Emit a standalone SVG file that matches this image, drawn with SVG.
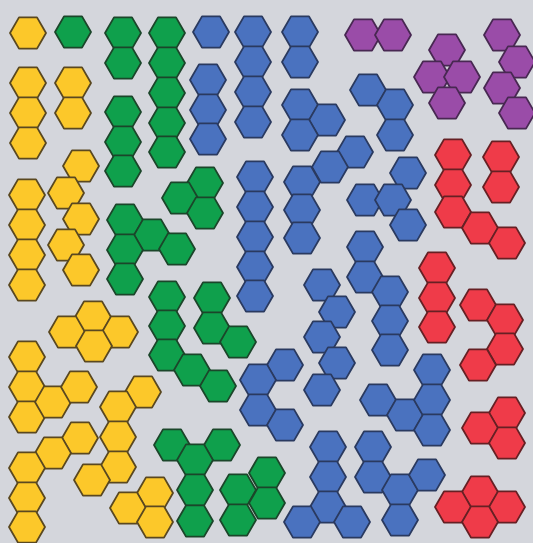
<svg xmlns="http://www.w3.org/2000/svg" xmlns:xlink="http://www.w3.org/1999/xlink" width="533" height="543" viewBox="0 0 533 543">
<style>
.y{fill:#fcc82a;stroke:#5a4820}
.g{fill:#0fa04c;stroke:#1b462a}
.b{fill:#4a72bf;stroke:#2a3a60}
.p{fill:#9a4ca8;stroke:#482852}
.r{fill:#ef3b49;stroke:#662024}
g use{stroke-width:1.8;stroke-linejoin:round}
</style>
<defs>
<polygon id="h" points="18,0 9,15.6 -9,15.6 -18,0 -9,-15.6 9,-15.6"/>
</defs>
<rect width="533" height="543" fill="#d4d6dc"/>
<!-- yellow -->
<g id="y1" class="y"><use href="#h" x="28" y="33"/></g>
<g id="y2" class="y"><use href="#h" x="28" y="83"/><use href="#h" x="28" y="113"/><use href="#h" x="28" y="143"/></g>
<g id="y3" class="y"><use href="#h" x="73" y="83"/><use href="#h" x="73" y="113"/></g>
<g id="y4" class="y"><use href="#h" x="81" y="166"/><use href="#h" x="66" y="193"/><use href="#h" x="81" y="219"/><use href="#h" x="66" y="245"/><use href="#h" x="81" y="270"/></g>
<g id="y5" class="y"><use href="#h" x="27" y="195"/><use href="#h" x="27" y="225"/><use href="#h" x="27" y="255"/><use href="#h" x="27" y="285"/></g>
<g id="y6" class="y"><use href="#h" x="93" y="317"/><use href="#h" x="67" y="332"/><use href="#h" x="120" y="332"/><use href="#h" x="94" y="346"/></g>
<g id="y7" class="y"><use href="#h" x="27" y="357"/><use href="#h" x="27" y="387"/><use href="#h" x="27" y="417"/><use href="#h" x="53" y="402"/><use href="#h" x="79" y="387"/></g>
<g id="y8" class="y"><use href="#h" x="143" y="392"/><use href="#h" x="118" y="407"/><use href="#h" x="118" y="437"/><use href="#h" x="118" y="467"/><use href="#h" x="92" y="480"/></g>
<g id="y9" class="y"><use href="#h" x="80" y="438"/><use href="#h" x="53" y="453"/><use href="#h" x="27" y="468"/><use href="#h" x="27" y="498"/><use href="#h" x="27" y="527"/></g>
<g id="y10" class="y"><use href="#h" x="155" y="493"/><use href="#h" x="128" y="508"/><use href="#h" x="155" y="522"/></g>
<!-- green -->
<g id="g1" class="g"><use href="#h" x="73" y="32"/></g>
<g id="g2" class="g"><use href="#h" x="123" y="33"/><use href="#h" x="123" y="63"/></g>
<g id="g3" class="g"><use href="#h" x="167" y="33"/><use href="#h" x="167" y="63"/><use href="#h" x="167" y="93"/><use href="#h" x="167" y="123"/><use href="#h" x="167" y="152"/></g>
<g id="g4" class="g"><use href="#h" x="123" y="112"/><use href="#h" x="123" y="142"/><use href="#h" x="123" y="171"/></g>
<g id="g5" class="g"><use href="#h" x="205" y="183"/><use href="#h" x="180" y="198"/><use href="#h" x="205" y="213"/></g>
<g id="g6" class="g"><use href="#h" x="125" y="220"/><use href="#h" x="152" y="235"/><use href="#h" x="177" y="249"/><use href="#h" x="125" y="250"/><use href="#h" x="125" y="279"/></g>
<g id="g7" class="g"><use href="#h" x="167" y="297"/><use href="#h" x="167" y="326"/><use href="#h" x="167" y="355"/><use href="#h" x="192" y="370"/><use href="#h" x="218" y="386"/></g>
<g id="g8" class="g"><use href="#h" x="212" y="298"/><use href="#h" x="212" y="328"/><use href="#h" x="238" y="342"/></g>
<g id="g9" class="g"><use href="#h" x="172" y="445"/><use href="#h" x="222" y="445"/><use href="#h" x="195" y="460"/><use href="#h" x="195" y="490"/><use href="#h" x="195" y="521"/></g>
<g id="g10" class="g"><use href="#h" x="267" y="473"/><use href="#h" x="238" y="490"/><use href="#h" x="267" y="503"/><use href="#h" x="238" y="520"/></g>
<!-- blue -->
<g id="b1" class="b"><use href="#h" x="211" y="32"/></g>
<g id="b2" class="b"><use href="#h" x="253" y="32"/><use href="#h" x="253" y="62"/><use href="#h" x="253" y="92"/><use href="#h" x="253" y="122"/></g>
<g id="b3" class="b"><use href="#h" x="300" y="32"/><use href="#h" x="300" y="62"/></g>
<g id="b4" class="b"><use href="#h" x="208" y="80"/><use href="#h" x="208" y="110"/><use href="#h" x="208" y="139"/></g>
<g id="b5" class="b"><use href="#h" x="300" y="105"/><use href="#h" x="327" y="120"/><use href="#h" x="300" y="135"/></g>
<g id="b6" class="b"><use href="#h" x="368" y="90"/><use href="#h" x="395" y="105"/><use href="#h" x="395" y="135"/></g>
<g id="b7" class="b"><use href="#h" x="255" y="177"/><use href="#h" x="255" y="207"/><use href="#h" x="255" y="237"/><use href="#h" x="255" y="267"/><use href="#h" x="255" y="296"/></g>
<g id="b8" class="b"><use href="#h" x="355" y="152"/><use href="#h" x="330" y="167"/><use href="#h" x="302" y="182"/><use href="#h" x="302" y="210"/><use href="#h" x="302" y="238"/></g>
<g id="b9" class="b"><use href="#h" x="408" y="173"/><use href="#h" x="365" y="200"/><use href="#h" x="393" y="200"/><use href="#h" x="408" y="225"/></g>
<g id="b10" class="b"><use href="#h" x="365" y="247"/><use href="#h" x="365" y="277"/><use href="#h" x="390" y="292"/><use href="#h" x="390" y="321"/><use href="#h" x="390" y="350"/></g>
<g id="b11" class="b"><use href="#h" x="322" y="285"/><use href="#h" x="337" y="312"/><use href="#h" x="322" y="337"/><use href="#h" x="337" y="363"/><use href="#h" x="322" y="390"/></g>
<g id="b12" class="b"><use href="#h" x="285" y="365"/><use href="#h" x="258" y="380"/><use href="#h" x="258" y="410"/><use href="#h" x="285" y="425"/></g>
<g id="b13" class="b"><use href="#h" x="432" y="370"/><use href="#h" x="378" y="400"/><use href="#h" x="405" y="415"/><use href="#h" x="432" y="400"/><use href="#h" x="432" y="430"/></g>
<g id="b14" class="b"><use href="#h" x="328" y="447"/><use href="#h" x="328" y="477"/><use href="#h" x="328" y="507"/><use href="#h" x="302" y="522"/><use href="#h" x="352" y="522"/></g>
<g id="b15" class="b"><use href="#h" x="373" y="447"/><use href="#h" x="373" y="477"/><use href="#h" x="400" y="490"/><use href="#h" x="427" y="475"/><use href="#h" x="400" y="520"/></g>
<!-- purple -->
<g id="p1" class="p"><use href="#h" x="363" y="35"/><use href="#h" x="393" y="35"/></g>
<g id="p2" class="p"><use href="#h" x="447" y="50"/><use href="#h" x="432" y="77"/><use href="#h" x="462" y="77"/><use href="#h" x="447" y="103"/></g>
<g id="p3" class="p"><use href="#h" x="502" y="35"/><use href="#h" x="517" y="62"/><use href="#h" x="502" y="88"/><use href="#h" x="517" y="113"/></g>
<!-- red -->
<g id="r1" class="r"><use href="#h" x="453" y="155"/><use href="#h" x="453" y="185"/><use href="#h" x="453" y="212"/><use href="#h" x="480" y="228"/><use href="#h" x="507" y="243"/></g>
<g id="r2" class="r"><use href="#h" x="501" y="157"/><use href="#h" x="501" y="187"/></g>
<g id="r3" class="r"><use href="#h" x="437" y="268"/><use href="#h" x="437" y="298"/><use href="#h" x="437" y="327"/></g>
<g id="r4" class="r"><use href="#h" x="478" y="305"/><use href="#h" x="505" y="320"/><use href="#h" x="505" y="349"/><use href="#h" x="478" y="365"/></g>
<g id="r5" class="r"><use href="#h" x="507" y="413"/><use href="#h" x="480" y="428"/><use href="#h" x="507" y="443"/></g>
<g id="r6" class="r"><use href="#h" x="480" y="492"/><use href="#h" x="453" y="507"/><use href="#h" x="507" y="507"/><use href="#h" x="480" y="522"/></g>
</svg>
